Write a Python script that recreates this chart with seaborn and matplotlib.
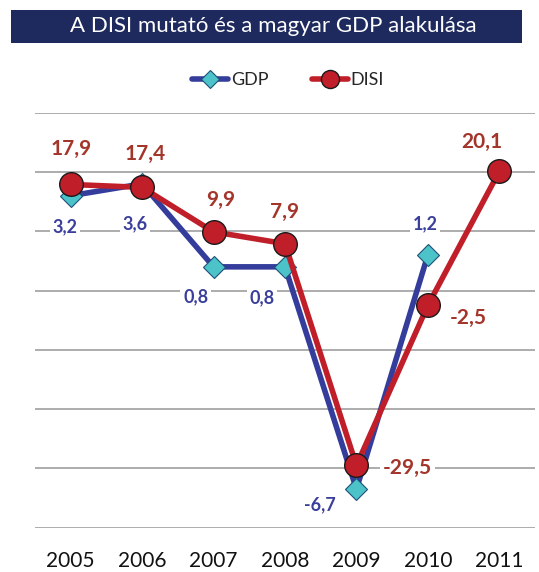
import numpy as np
import pandas as pd
import seaborn as sns
import matplotlib.pyplot as plt
from matplotlib.lines import Line2D
from matplotlib.patches import Rectangle

sns.set_theme(style="white")
plt.rcParams["font.family"] = ["Lato", "DejaVu Sans"]

years = ["2005", "2006", "2007", "2008", "2009", "2010", "2011"]
gdp = [3.2, 3.6, 0.8, 0.8, -6.7, 1.2]
disi = [17.9, 17.4, 9.9, 7.9, -29.5, -2.5, 20.1]

BLUE = "#343C9C"
CYAN = "#4BC3C8"
RED = "#C01F2A"
RED_TXT = "#A3352A"
BLUE_TXT = "#3A3F9C"

df_gdp = pd.DataFrame({"pos": np.arange(len(gdp)), "value": gdp})
df_disi = pd.DataFrame({"pos": np.arange(len(disi)), "value": disi})

fig = plt.figure(figsize=(5.39, 5.72), dpi=100)
W, H = 539, 572
ax = fig.add_axes([35 / W, 1 - 527.7 / H, 500 / W, (527.7 - 112.7) / H])
ax2 = ax.twinx()

# GDP on the primary axis (drawn below), DISI on the twin axis
sns.lineplot(data=df_gdp, x="pos", y="value", ax=ax, color=BLUE, lw=4,
             marker="D", markersize=11, markerfacecolor=CYAN,
             markeredgecolor="#1F4F78", markeredgewidth=0.8, zorder=3)
sns.lineplot(data=df_disi, x="pos", y="value", ax=ax2, color=RED, lw=4,
             marker="o", markersize=17, markerfacecolor=RED,
             markeredgecolor="#1A1A1A", markeredgewidth=1.0, zorder=3)

ax.set_xlim(-0.5, len(years) - 0.5)
ax.set_ylim(-8, 6)
ax2.set_ylim(-40, 30)
ax.set_yticks(np.arange(-8, 7, 2))
ax.yaxis.grid(True, color="#A6A6A6", lw=1.3)
ax.xaxis.grid(False)
ax.set_xticks(range(len(years)))
ax.set_xticklabels(years, fontsize=15, color="#111111")
ax.tick_params(axis="x", length=0, pad=16.5)
ax.tick_params(axis="y", length=0, labelleft=False)
ax2.tick_params(axis="y", length=0, labelright=False)
for a in (ax, ax2):
    a.set_xlabel("")
    a.set_ylabel("")
    for s in a.spines.values():
        s.set_visible(False)

box = dict(boxstyle="square,pad=0.15", fc="white", ec="none")

def fmt(v):
    return f"{v:.1f}".replace(".", ",")

disi_off = [(0, 35), (3, 33), (7, 32), (0, 32), (51, -3), (40, -13), (-17, 29)]
for i, (v, off) in enumerate(zip(disi, disi_off)):
    ax2.annotate(fmt(v), (i, v), xytext=off, textcoords="offset pixels",
                 ha="center", va="center", fontsize=15, fontweight="bold",
                 color=RED_TXT, bbox=box, zorder=5)

gdp_off = [(-6, -31), (-7, -40), (-18, -30), (-23, -31), (-37, -16), (-3, 31)]
for i, (v, off) in enumerate(zip(gdp, gdp_off)):
    ax.annotate(fmt(v), (i, v), xytext=off, textcoords="offset pixels",
                ha="center", va="center", fontsize=13, fontweight="bold",
                color=BLUE_TXT, bbox=box, zorder=5)

# Title banner
fig.patches.append(Rectangle((10.7 / W, 1 - 42.7 / H), 511 / W, 32.7 / H,
                             transform=fig.transFigure, fc="#1E2A5E", ec="none"))
fig.text(273 / W, 1 - 26.5 / H, "A DISI mutató és a magyar GDP alakulása",
         ha="center", va="center", color="white", fontsize=16)

handles = [
    Line2D([], [], color=BLUE, lw=4, marker="D", markersize=9,
           markerfacecolor=CYAN, markeredgecolor="#1F4F78", markeredgewidth=0.8),
    Line2D([], [], color=RED, lw=4, marker="o", markersize=13,
           markerfacecolor=RED, markeredgecolor="#1A1A1A", markeredgewidth=1.0),
]
fig.legend(handles, ["GDP", "DISI"], loc="center", bbox_to_anchor=(288 / W, 1 - 80 / H),
           ncol=2, frameon=False, fontsize=13, handlelength=2.0,
           handletextpad=0.15, columnspacing=2.4)

fig.savefig("out.png", dpi=100)
